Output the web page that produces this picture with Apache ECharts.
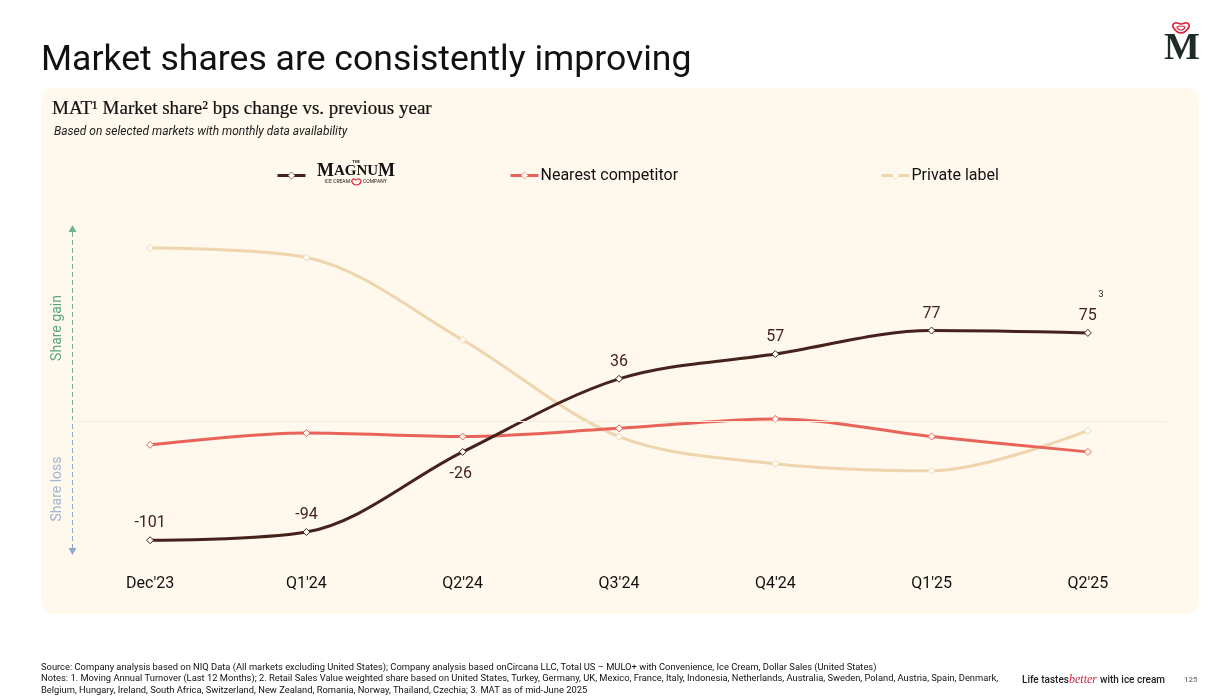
<!DOCTYPE html>
<html><head><meta charset="utf-8">
<style>html,body{margin:0;padding:0;background:#fff}#c{width:1224px;height:697px}</style>
<script src="https://cdn.jsdelivr.net/npm/echarts@6/dist/echarts.min.js"></script>
</head><body><div id="c"></div>
<script>
const categories = ["Dec'23","Q1'24","Q2'24","Q3'24","Q4'24","Q1'25","Q2'25"];
const magnum = [-101,-94,-26,36,57,77,75];
const competitor = [-20,-10,-13,-6,2,-13,-26];
const privateLabel = [147,139,69,-13,-36,-42,-8];
const seriesNames = ["The Magnum Ice Cream Company","Nearest competitor","Private label"];
const DARK='#45231a', RED='#e8645a', PALE='#efd5ae', PANEL='#fef8ed';
const FONT='Roboto';
const chart = echarts.init(document.getElementById('c'),null,{renderer:'canvas'});
function mk(name,data,color,extra){
  return Object.assign({
    name,type:'line',data,smooth:0.33,symbol:'diamond',symbolSize:7,
    lineStyle:{color,width:3},
    itemStyle:{color:'#fffdf8',borderColor:color,borderWidth:1},
    emphasis:{disabled:true},animation:false,silent:true
  },extra||{});
}
function legendAt(left,name,color,fmt){
  return {left,top:162.5,orient:'horizontal',data:[name],itemWidth:28,itemHeight:9,selectedMode:false,
    lineStyle:{width:3},itemStyle:{color:'#fffdf8',borderColor:color,borderWidth:0.6},
    formatter:fmt||'{name}',textStyle:{fontFamily:FONT,fontSize:16,color:'#111',padding:[0,0,0,-3]}};
}
chart.setOption({
  animation:false,
  backgroundColor:'#ffffff',
  grid:{left:72,width:1094,top:221,height:341.6},
  xAxis:{type:'category',data:categories,boundaryGap:true,
    axisLine:{show:false},axisTick:{show:false},
    axisLabel:{fontFamily:FONT,fontSize:16,color:'#111',margin:13}},
  yAxis:{type:'value',min:-120,max:170,show:false,splitLine:{show:false}},
  legend:[legendAt(271,seriesNames[0],DARK,' '),legendAt(504,seriesNames[1],RED),legendAt(875,seriesNames[2],PALE)],
  series:[
    mk(seriesNames[2],privateLabel,PALE),
    mk(seriesNames[1],competitor,RED,{markLine:{silent:true,symbol:'none',label:{show:false},
      lineStyle:{color:'#f5ead6',width:1,type:'solid'},data:[{yAxis:0}],animation:false}}),
    mk(seriesNames[0],magnum,DARK,{label:{show:true,position:'top',distance:5,fontFamily:FONT,fontSize:16,color:DARK},
      data:magnum.map((v,i)=>i===2?{value:v,label:{position:'bottom',distance:10,offset:[-2,0]}}:v)})
  ],
  graphic:[
    {type:'rect',z:-10,shape:{x:41,y:88,width:1158,height:526,r:12},style:{fill:PANEL}},
    {type:'text',x:41,y:43.5,style:{text:'Market shares are consistently improving',font:'35.6px Roboto',fill:'#111'}},
    {type:'text',x:52,y:100,style:{text:'MAT¹ Market share² bps change vs. previous year',font:'19px "Liberation Serif"',fill:'#111',stroke:'#111',lineWidth:0.2}},
    {type:'text',x:54,y:126,style:{text:'Based on selected markets with monthly data availability',font:'italic 12px Roboto',fill:'#222'}},
    // legend logo
    {type:'text',x:356,y:160,style:{text:'THE',font:'bold 4px Roboto',fill:'#111',align:'center'}},
    {type:'text',x:356,y:171,style:{text:'{a|M}{b|AGNU}{a|M}',align:'center',verticalAlign:'middle',fill:'#111',
      rich:{a:{font:'bold 18px "Liberation Serif"',fill:'#111'},b:{font:'bold 15px "Liberation Serif"',fill:'#111'}}}},
    {type:'text',x:350,y:182,style:{text:'ICE CREAM',font:'5px Roboto',fill:'#222',align:'right',verticalAlign:'middle'}},
    {type:'text',x:363,y:182,style:{text:'COMPANY',font:'5px Roboto',fill:'#222',align:'left',verticalAlign:'middle'}},
    {type:'polygon',shape:{smooth:0.5,points:[[356,185],[352,182],[353,179],[356,180],[359,179],[361,182]]},style:{fill:'none',stroke:'#d81f3c',lineWidth:1.2}},
    // share gain / loss arrows
    {type:'line',shape:{x1:72.5,y1:232,x2:72.5,y2:420},style:{stroke:'#6fb68e',lineWidth:1,lineDash:[5,3]}},
    {type:'polygon',shape:{points:[[72.5,225],[68.5,232],[76.5,232]]},style:{fill:'#6fb68e'}},
    {type:'line',shape:{x1:72.5,y1:424,x2:72.5,y2:548},style:{stroke:'#8fa9cc',lineWidth:1,lineDash:[5,3]}},
    {type:'polygon',shape:{points:[[72.5,555],[68.5,548],[76.5,548]]},style:{fill:'#8fa9cc'}},
    {type:'text',x:57,y:328,rotation:Math.PI/2,style:{text:'Share gain',font:'14px Roboto',fill:'#5da77b',align:'center',verticalAlign:'middle'}},
    {type:'text',x:57,y:489,rotation:Math.PI/2,style:{text:'Share loss',font:'14px Roboto',fill:'#a3b5cf',align:'center',verticalAlign:'middle'}},
    {type:'text',x:1101,y:295,style:{text:'3',font:'9px Roboto',fill:'#222',align:'center',verticalAlign:'middle'}},
    // footer
    {type:'text',x:41,y:663,style:{text:'Source: Company analysis based on NIQ Data (All markets excluding United States); Company analysis based onCircana LLC, Total US – MULO+ with Convenience, Ice Cream, Dollar Sales (United States)',font:'9.36px Roboto',fill:'#111'}},
    {type:'text',x:41,y:674.5,style:{text:'Notes: 1. Moving Annual Turnover (Last 12 Months); 2. Retail Sales Value weighted share based on United States, Turkey, Germany, UK, Mexico, France, Italy, Indonesia, Netherlands, Australia, Sweden, Poland, Austria, Spain, Denmark,',font:'9.36px Roboto',fill:'#111'}},
    {type:'text',x:41,y:686,style:{text:'Belgium, Hungary, Ireland, South Africa, Switzerland, New Zealand, Romania, Norway, Thailand, Czechia; 3. MAT as of mid-June 2025',font:'9.36px Roboto',fill:'#111'}},
    {type:'text',x:1022,y:675,style:{text:'Life tastes',font:'500 10px Roboto',fill:'#222'}},
    {type:'text',x:1069,y:674,style:{text:'better',font:'italic 12px "Liberation Serif"',fill:'#d81f3c'}},
    {type:'text',x:1100,y:675,style:{text:'with ice cream',font:'500 10px Roboto',fill:'#222'}},
    {type:'text',x:1184,y:676,style:{text:'125',font:'500 8px Roboto',fill:'#777'}},
    // brand mark
    {type:'text',x:1182,y:30,style:{text:'M',font:'bold 38px "Liberation Serif"',fill:'#1e2b26',align:'center'}},
    {type:'polygon',shape:{smooth:0.5,points:[[1181,33],[1173,27],[1175,23],[1181,24],[1187,23],[1189,27]]},style:{fill:'none',stroke:'#d81f3c',lineWidth:1.6}},
    {type:'polygon',shape:{smooth:0.5,points:[[1181,30],[1177,27],[1181,26],[1185,27]]},style:{fill:'none',stroke:'#d81f3c',lineWidth:1.2}}
  ]
});
</script></body></html>
